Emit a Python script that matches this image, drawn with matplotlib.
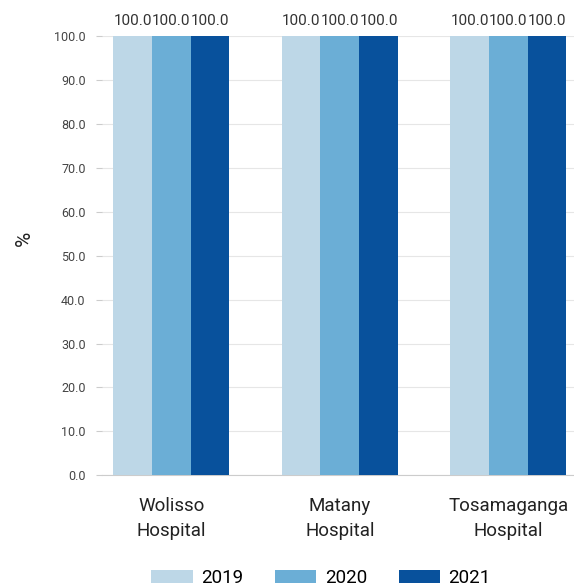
import matplotlib
matplotlib.use("Agg")
import matplotlib.pyplot as plt
import numpy as np

plt.rcParams['font.family'] = ['Roboto', 'DejaVu Sans']

hospitals = ['Wolisso\nHospital', 'Matany\nHospital', 'Tosamaganga\nHospital']
years = ['2019', '2020', '2021']
values = {
    '2019': [100.0, 100.0, 100.0],
    '2020': [100.0, 100.0, 100.0],
    '2021': [100.0, 100.0, 100.0],
}
colors = ['#bdd7e7', '#6baed6', '#08519c']
yticks = np.arange(0, 101, 10)

fig = plt.figure(figsize=(5.74, 5.86), dpi=100)
ax = fig.add_axes((0.178, 0.189, 0.822, 0.749))

x = np.arange(len(hospitals))
w = 0.23
for i, yr in enumerate(years):
    bars = ax.bar(x + (i - 1) * w, values[yr], w, color=colors[i], label=yr, zorder=3)
    for b in bars:
        ax.text(b.get_x() + b.get_width() / 2, b.get_height() + 2.0, f"{b.get_height():.1f}",
                ha='center', va='bottom', fontsize=11, color='#333333')

ax.set_xlim(-0.41, 2.39)
ax.set_ylim(0, 100)
ax.set_yticks(yticks)
ax.set_yticklabels([f"{v:.1f}" for v in yticks], fontsize=9, color='#444444')
ax.set_xticks(x)
ax.set_xticklabels(hospitals, fontsize=13.5, color='#222222', linespacing=1.45)
ax.tick_params(axis='x', length=0, pad=16)
ax.tick_params(axis='y', length=4, color='#cccccc', pad=8)
ax.grid(axis='y', color='#e6e6e6', linewidth=0.8, zorder=0)
for s in ['top', 'right', 'left']:
    ax.spines[s].set_visible(False)
ax.spines['bottom'].set_color('#cccccc')

ax.set_ylabel('%', fontsize=15, color='#222222')
ax.yaxis.set_label_coords(-0.145, 0.54)

ax.legend(loc='lower center', bbox_to_anchor=(0.464, -0.255), ncol=3, frameon=False,
          fontsize=13.5, handlelength=2.2, handleheight=0.65, columnspacing=1.7,
          handletextpad=0.45, borderaxespad=0, borderpad=0)

fig.savefig('out.png', dpi=100)
